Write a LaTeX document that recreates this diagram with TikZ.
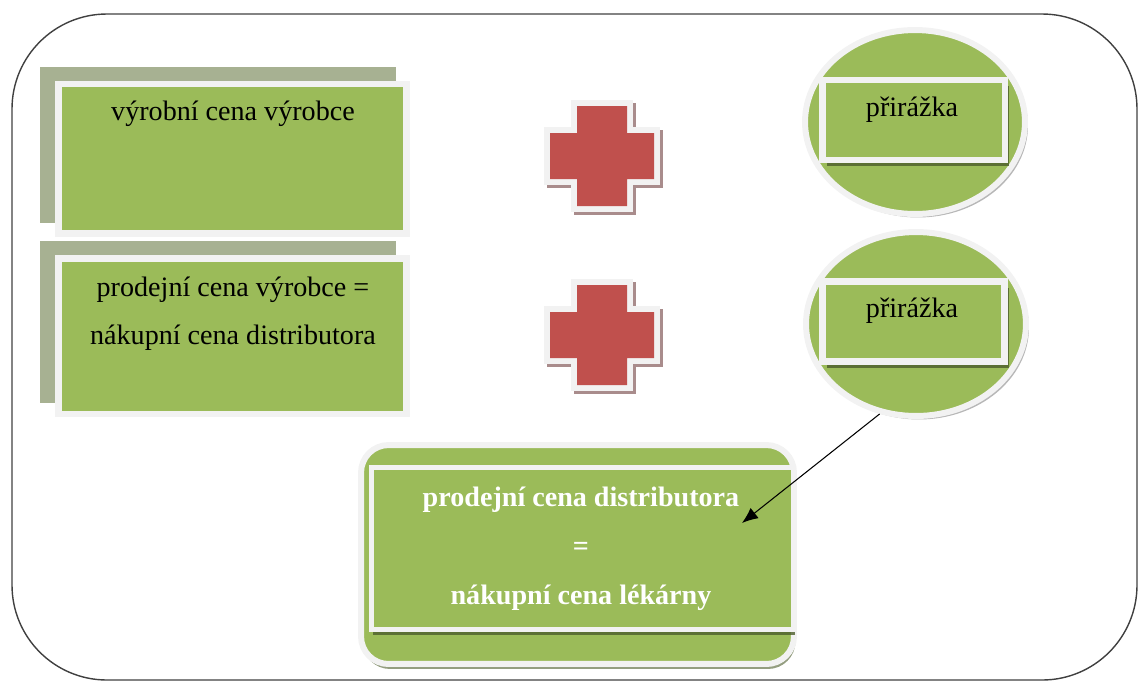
\documentclass[tikz,border=0pt]{standalone}
\usepackage{fontspec}
\setmainfont{Liberation Serif}
\usepackage{tikz}
\usetikzlibrary{
  shapes.geometric,
  shadows,
  arrows.meta,
  positioning
}
\definecolor{leafgreen}{HTML}{9BBB59}
\definecolor{sagegray}{HTML}{A7B192}
\definecolor{rimwhite}{HTML}{F2F2F2}
\definecolor{crossred}{HTML}{C0504D}
\definecolor{crossshade}{HTML}{A98C8C}
\definecolor{framegray}{HTML}{404040}
\newcommand{\plusshape}{(-25,-50) -- (25,-50) -- (25,-23) -- (52,-23) -- (52,23) -- (25,23)
  -- (25,50) -- (-25,50) -- (-25,23) -- (-52,23) -- (-52,-23) -- (-25,-23) -- cycle}

\begin{document}
\begin{tikzpicture}[x=0.02cm,y=-0.02cm,
  greenbox/.style={rectangle,fill=leafgreen,draw=rimwhite,line width=0.13cm,inner sep=0pt},
  ring/.style={ellipse,fill=leafgreen,draw=rimwhite,line width=0.12cm,
    minimum width=4.4cm,minimum height=3.68cm,
    drop shadow={shadow xshift=0.06cm,shadow yshift=-0.07cm,fill=black!40,opacity=0.7}},
  tag/.style={greenbox,minimum width=3.65cm,minimum height=1.6cm,
    drop shadow={shadow xshift=0.09cm,shadow yshift=-0.12cm,fill=leafgreen!55!black,opacity=0.9}},
  plaintxt/.style={font=\fontsize{16}{27.5}\selectfont,align=center,inner sep=0pt},
  boldtxt/.style={plaintxt,font=\bfseries\fontsize{16}{27.8}\selectfont,text=white}
]
\useasboundingbox (0,0) rectangle (1139,681);
\draw[framegray,line width=0.8pt,rounded corners=1.9cm] (12,14) rectangle (1137,680);

% left boxes
\fill[sagegray] (40,67) rectangle (396,223);
\node[greenbox,minimum width=6.96cm,minimum height=2.99cm] (b1) at (232.5,158.75) {};
\node[plaintxt] (b1txt) at (233,114) {výrobní cena výrobce};

\fill[sagegray] (40,241) rectangle (396,403);
\node[greenbox,minimum width=6.96cm,minimum height=3.11cm] (b2) at (232.5,336.25) {};
\node[plaintxt] (b2txt) at (233,314) {prodejní cena výrobce =\\nákupní cena distributora};

% crosses
\foreach \cy in {156,335}{
  \begin{scope}[shift={(602,\cy)}]
    \filldraw[crossshade,line width=0.24cm,line join=miter,shift={(3,3)}] \plusshape;
    \filldraw[rimwhite,line width=0.24cm,line join=miter] \plusshape;
    \fill[crossred] \plusshape;
  \end{scope}
}

% markups
\node[ring] (c1) at (915,122) {};
\node[tag] (c1box) at (913.75,120) {};
\node[plaintxt] (c1txt) at (912,110) {přirážka};

\node[ring] (c2) at (916,324) {};
\node[tag] (c2box) at (913.5,321.5) {};
\node[plaintxt] (c2txt) at (912,311) {přirážka};

% result
\node[greenbox,line width=0.12cm,rounded corners=0.55cm,minimum width=8.66cm,minimum height=4.38cm,
  drop shadow={shadow xshift=0.03cm,shadow yshift=-0.1cm,fill=leafgreen!50!black,opacity=0.6}]
  (res) at (577.5,554.5) {};
\node[greenbox,line width=0.1cm,minimum width=8.45cm,minimum height=3.24cm,
  drop shadow={shadow xshift=0.02cm,shadow yshift=-0.1cm,fill=leafgreen!50!black,opacity=0.8}]
  (resbox) at (582.75,548.5) {};
\node[boldtxt] (restxt) at (581,549) {prodejní cena distributora\\=\\nákupní cena lékárny};

\coordinate (tip) at (742,523);
\draw[-{Latex[length=0.32cm,width=0.26cm]},line width=0.6pt] (c2.248) -- (tip);
\end{tikzpicture}
\end{document}
